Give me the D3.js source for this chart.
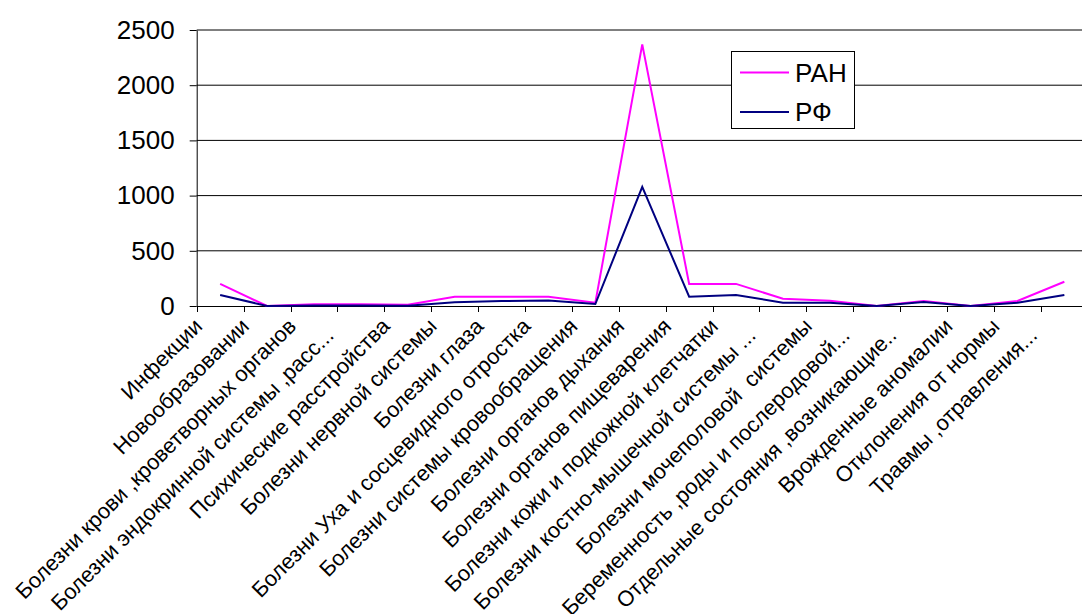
<!DOCTYPE html>
<html><head><meta charset="utf-8">
<script src="https://cdn.jsdelivr.net/npm/d3@7"></script>
<style>
html,body{margin:0;padding:0;background:#fff;}
svg{display:block;font-family:"Liberation Sans",Arial,sans-serif;}
</style></head>
<body>
<svg id="chart" width="1082" height="614"></svg>
<script>
const categories = [
  "Инфекции",
  "Новообразовании",
  "Болезни крови ,кроветворных органов",
  "Болезни эндокринной системы ,расс...",
  "Психические расстройства",
  "Болезни нервной системы",
  "Болезни глаза",
  "Болезни Уха и сосцевидного отростка",
  "Болезни системы кровообращения",
  "Болезни органов дыхания",
  "Болезни органов пищеварения",
  "Болезни кожи и подкожной клетчатки",
  "Болезни костно-мышечной системы ...",
  "Болезни мочеполовой  системы",
  "Беременность ,роды и послеродовой...",
  "Отдельные состояния ,возникающие..",
  "Врожденные аномалии",
  "Отклонения от нормы",
  "Травмы ,отравления..."
];
const seriesNames = ["РАН", "РФ"];
const pahValues = [200, 0, 15, 15, 12, 84, 84, 84, 30, 2370, 200, 200, 66, 48, 0, 45, 0, 45, 220];
const rfValues  = [100, 0, 5, 5, 3, 33, 45, 50, 18, 1080, 84, 100, 30, 30, 0, 37, 0, 30, 100];
const yTicks = [0, 500, 1000, 1500, 2000, 2500];
const seriesColors = ["#FF00FF", "#000080"];

const svg = d3.select("#chart");
const mLeft = 196.7, mRight = 1087.8, mTop = 30, mBottom = 306;

const x = d3.scalePoint().domain(categories).range([mLeft, mRight]).padding(0.5);
const step = x.step();
const y = d3.scaleLinear().domain([0, 2500]).range([mBottom, mTop]);

// gridlines
svg.append("g").selectAll("line").data(yTicks.filter(d => d > 0)).join("line")
  .attr("x1", mLeft).attr("x2", 1082)
  .attr("y1", d => y(d)).attr("y2", d => y(d))
  .attr("stroke", "#000").attr("stroke-width", 1);

// y axis
const yAxis = d3.axisLeft(y).tickValues(yTicks).tickFormat(d3.format("d"))
  .tickSize(7).tickPadding(15).tickSizeOuter(0);
const gy = svg.append("g").attr("transform", `translate(${mLeft},0)`).call(yAxis);
gy.select(".domain").attr("stroke", "#000");
gy.selectAll(".tick line").attr("stroke", "#000");
gy.selectAll(".tick text").attr("font-size", 26).attr("fill", "#000")
  .attr("font-family", "'Liberation Sans',Arial,sans-serif");

// x axis line and ticks at category boundaries
const boundaries = categories.map(c => x(c) - step / 2).concat([x(categories[categories.length - 1]) + step / 2]);
svg.append("line").attr("x1", mLeft).attr("x2", 1082).attr("y1", mBottom + 0.5).attr("y2", mBottom + 0.5)
  .attr("stroke", "#000");
svg.append("g").selectAll("line").data(boundaries).join("line")
  .attr("x1", d => Math.round(d) + 0.5).attr("x2", d => Math.round(d) + 0.5)
  .attr("y1", mBottom).attr("y2", mBottom + 6).attr("stroke", "#000");

// category labels (rotated -45deg, right end near the category)
const labels = svg.append("g").selectAll("text").data(categories).join("text")
  .attr("text-anchor", "end")
  .attr("font-size", 22).attr("fill", "#000")
  .style("white-space", "pre")
  .text(d => d);
// calibrate font size on a long label
const refLen = labels.nodes()[2].getComputedTextLength();
const fs = 22 * 386 / refLen;
labels.attr("font-size", fs)
  .attr("transform", d => `translate(${x(d)},${mBottom}) rotate(-45)`)
  .attr("x", d => /\.$/.test(d) ? -40 : -27)
  .attr("y", 3.5);

// lines
const line = d3.line().x((d, i) => x(categories[i])).y(d => y(d));
[pahValues, rfValues].forEach((vals, k) => {
  svg.append("path").datum(vals).attr("d", line)
    .attr("fill", "none").attr("stroke", seriesColors[k]).attr("stroke-width", 2);
});

// legend
const lg = svg.append("g");
lg.append("rect").attr("x", 731.5).attr("y", 51.5).attr("width", 123).attr("height", 77)
  .attr("fill", "#fff").attr("stroke", "#000").attr("stroke-width", 1);
seriesNames.forEach((name, k) => {
  const ly = 72.5 + k * 39.5;
  lg.append("line").attr("x1", 740).attr("x2", 789).attr("y1", ly).attr("y2", ly)
    .attr("stroke", seriesColors[k]).attr("stroke-width", 2);
  lg.append("text").attr("x", 795).attr("y", ly).attr("dy", "0.35em")
    .attr("font-size", 26).attr("fill", "#000").text(name);
});
</script>
</body></html>
